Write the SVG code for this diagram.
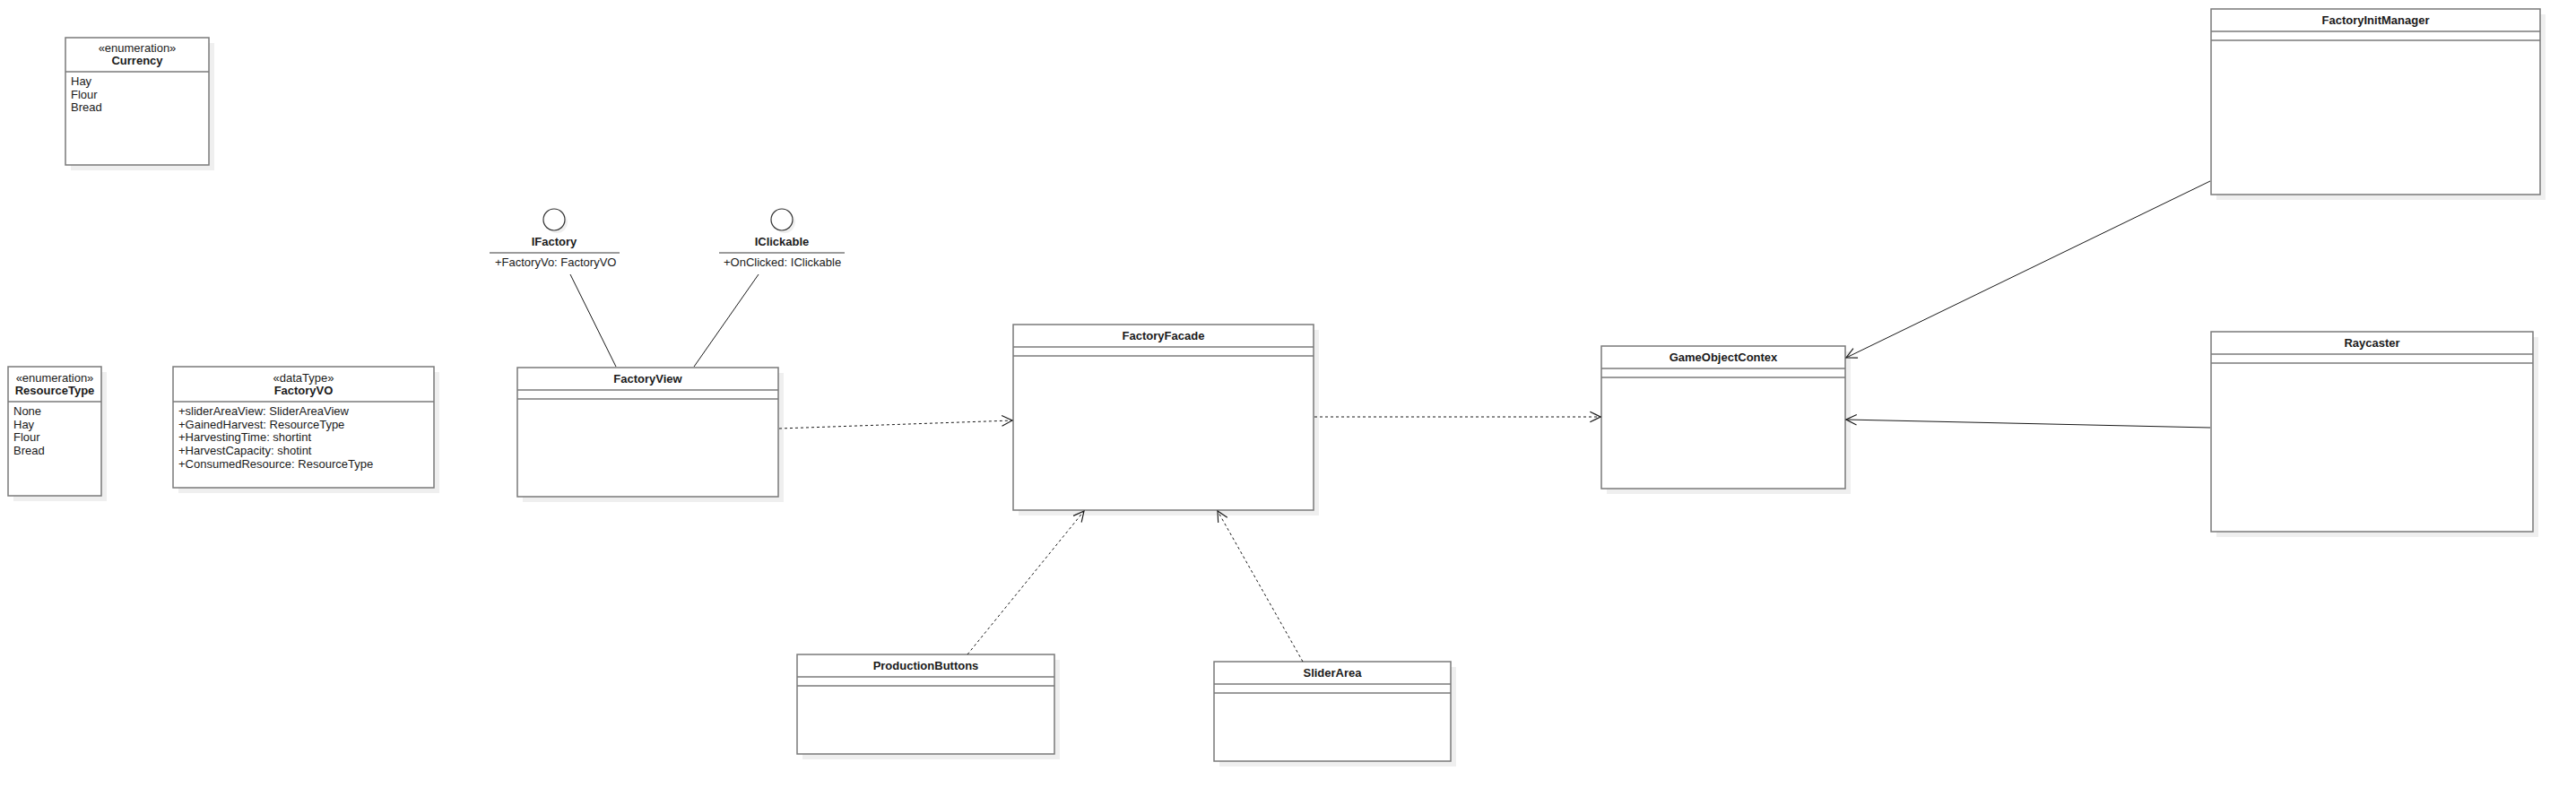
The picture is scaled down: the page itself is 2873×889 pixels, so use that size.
<svg xmlns="http://www.w3.org/2000/svg" width="2873" height="889" viewBox="0 0 2873 889">
<style>
.shadow{fill:#efefef;stroke:none}
.box{fill:#ffffff;stroke:#7a7a7a;stroke-width:1.5}
.div{stroke:#7a7a7a;stroke-width:1.5;fill:none}
.t{font-family:"Liberation Sans",Arial,sans-serif;font-size:13px;fill:#1a1a1a}
.b{font-weight:bold}
.c{text-anchor:middle}
.conn{stroke:#1a1a1a;stroke-width:1;fill:none}
.dash{stroke-dasharray:3 3}
.ifc{fill:#ffffff;stroke:#333333;stroke-width:1.2}
</style>
<defs>
<marker id="open" markerUnits="userSpaceOnUse" markerWidth="14" markerHeight="14" viewBox="0 0 12 12" refX="11" refY="6" orient="auto">
<path d="M1,1 L11,6 L1,11" fill="none" stroke="#1a1a1a" stroke-width="1"/>
</marker>
</defs>

<g id="Currency">
<rect class="shadow" x="79" y="48" width="160" height="142"/>
<rect class="box" x="73" y="42" width="160" height="142"/>
<line class="div" x1="73" y1="80" x2="233" y2="80"/>
<text class="t c" x="153" y="58">«enumeration»</text>
<text class="t c b" x="153" y="72">Currency</text>
<text class="t" x="79" y="95">Hay</text>
<text class="t" x="79" y="109.5">Flour</text>
<text class="t" x="79" y="124">Bread</text>
</g>

<g id="ResourceType">
<rect class="shadow" x="15" y="415" width="104" height="144"/>
<rect class="box" x="9" y="409" width="104" height="144"/>
<line class="div" x1="9" y1="448" x2="113" y2="448"/>
<text class="t c" x="61" y="426">«enumeration»</text>
<text class="t c b" x="61" y="440">ResourceType</text>
<text class="t" x="15" y="463">None</text>
<text class="t" x="15" y="477.7">Hay</text>
<text class="t" x="15" y="492.4">Flour</text>
<text class="t" x="15" y="507">Bread</text>
</g>

<g id="FactoryVO">
<rect class="shadow" x="199" y="415" width="291" height="135"/>
<rect class="box" x="193" y="409" width="291" height="135"/>
<line class="div" x1="193" y1="448" x2="484" y2="448"/>
<text class="t c" x="338.5" y="426">«dataType»</text>
<text class="t c b" x="338.5" y="440">FactoryVO</text>
<text class="t" x="199" y="463">+sliderAreaView: SliderAreaView</text>
<text class="t" x="199" y="477.7">+GainedHarvest: ResourceType</text>
<text class="t" x="199" y="492.4">+HarvestingTime: shortint</text>
<text class="t" x="199" y="507.1">+HarvestCapacity: shotint</text>
<text class="t" x="199" y="521.8">+ConsumedResource: ResourceType</text>
</g>

<g id="IFactory">
<circle class="shadow" cx="621" cy="248" r="12"/>
<circle class="ifc" cx="618" cy="245" r="12"/>
<text class="t c b" x="618" y="274">IFactory</text>
<line class="div" x1="546" y1="282" x2="691" y2="282"/>
<text class="t" x="552" y="297">+FactoryVo: FactoryVO</text>
</g>

<g id="IClickable">
<circle class="shadow" cx="875" cy="248" r="12"/>
<circle class="ifc" cx="872" cy="245" r="12"/>
<text class="t c b" x="872" y="274">IClickable</text>
<line class="div" x1="802" y1="282" x2="942" y2="282"/>
<text class="t" x="807" y="297">+OnClicked: IClickable</text>
</g>

<g id="FactoryView">
<rect class="shadow" x="583" y="416" width="291" height="144"/>
<rect class="box" x="577" y="410" width="291" height="144"/>
<line class="div" x1="577" y1="435" x2="868" y2="435"/>
<line class="div" x1="577" y1="445" x2="868" y2="445"/>
<text class="t c b" x="722.5" y="427">FactoryView</text>
</g>

<g id="FactoryFacade">
<rect class="shadow" x="1136" y="368" width="335" height="207"/>
<rect class="box" x="1130" y="362" width="335" height="207"/>
<line class="div" x1="1130" y1="387" x2="1465" y2="387"/>
<line class="div" x1="1130" y1="397" x2="1465" y2="397"/>
<text class="t c b" x="1297.5" y="379">FactoryFacade</text>
</g>

<g id="ProductionButtons">
<rect class="shadow" x="895" y="736" width="287" height="111"/>
<rect class="box" x="889" y="730" width="287" height="111"/>
<line class="div" x1="889" y1="755" x2="1176" y2="755"/>
<line class="div" x1="889" y1="765" x2="1176" y2="765"/>
<text class="t c b" x="1032.5" y="747">ProductionButtons</text>
</g>

<g id="SliderArea">
<rect class="shadow" x="1360" y="744" width="264" height="111"/>
<rect class="box" x="1354" y="738" width="264" height="111"/>
<line class="div" x1="1354" y1="763" x2="1618" y2="763"/>
<line class="div" x1="1354" y1="773" x2="1618" y2="773"/>
<text class="t c b" x="1486" y="755">SliderArea</text>
</g>

<g id="GameObjectContex">
<rect class="shadow" x="1792" y="392" width="272" height="159"/>
<rect class="box" x="1786" y="386" width="272" height="159"/>
<line class="div" x1="1786" y1="411" x2="2058" y2="411"/>
<line class="div" x1="1786" y1="421" x2="2058" y2="421"/>
<text class="t c b" x="1922" y="403">GameObjectContex</text>
</g>

<g id="FactoryInitManager">
<rect class="shadow" x="2472" y="16" width="367" height="207"/>
<rect class="box" x="2466" y="10" width="367" height="207"/>
<line class="div" x1="2466" y1="35" x2="2833" y2="35"/>
<line class="div" x1="2466" y1="45" x2="2833" y2="45"/>
<text class="t c b" x="2649.5" y="27">FactoryInitManager</text>
</g>

<g id="Raycaster">
<rect class="shadow" x="2472" y="376" width="359" height="223"/>
<rect class="box" x="2466" y="370" width="359" height="223"/>
<line class="div" x1="2466" y1="395" x2="2825" y2="395"/>
<line class="div" x1="2466" y1="405" x2="2825" y2="405"/>
<text class="t c b" x="2645.5" y="387">Raycaster</text>
</g>

<g id="connectors">
<line class="conn" x1="636" y1="306" x2="687" y2="409"/>
<line class="conn" x1="846" y1="306" x2="774" y2="409"/>
<line class="conn dash" x1="869" y1="478" x2="1129" y2="469" marker-end="url(#open)"/>
<line class="conn dash" x1="1079" y1="730" x2="1209" y2="570" marker-end="url(#open)"/>
<line class="conn dash" x1="1453" y1="738" x2="1358" y2="570" marker-end="url(#open)"/>
<line class="conn dash" x1="1466" y1="465" x2="1785" y2="465" marker-end="url(#open)"/>
<line class="conn" x1="2465" y1="202" x2="2059" y2="399" marker-end="url(#open)"/>
<line class="conn" x1="2465" y1="477" x2="2059" y2="468" marker-end="url(#open)"/>
</g>
</svg>
